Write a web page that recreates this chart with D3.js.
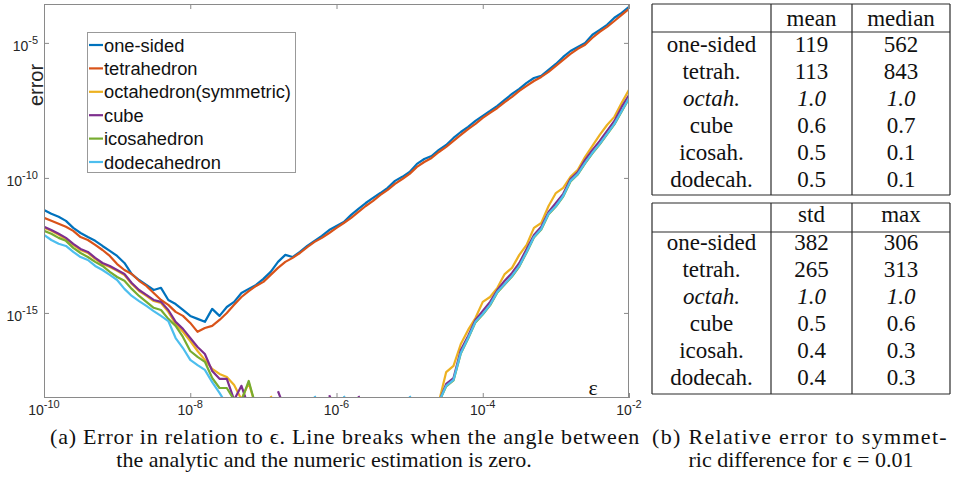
<!DOCTYPE html>
<html>
<head>
<meta charset="utf-8">
<script src="https://cdn.jsdelivr.net/npm/d3@7"></script>
<style>
  body { margin: 0; background: #fff; }
</style>
</head>
<body>
<svg id="chart" width="953" height="484"></svg>
<script>
// log10 of epsilon at each sample
const epsExp = [
  -10.0, -9.9, -9.8, -9.7, -9.6, -9.5, -9.4, -9.3, -9.2, -9.1,
  -9.0, -8.9, -8.8, -8.7, -8.6, -8.5, -8.4, -8.3, -8.2, -8.1,
  -8.0, -7.9, -7.8, -7.7, -7.6, -7.5, -7.4, -7.3, -7.2, -7.1,
  -7.0, -6.9, -6.8, -6.7, -6.6, -6.5, -6.4, -6.3, -6.2, -6.1,
  -6.0, -5.9, -5.8, -5.7, -5.6, -5.5, -5.4, -5.3, -5.2, -5.1,
  -5.0, -4.9, -4.8, -4.7, -4.6, -4.5, -4.4, -4.3, -4.2, -4.1,
  -4.0, -3.9, -3.8, -3.7, -3.6, -3.5, -3.4, -3.3, -3.2, -3.1,
  -3.0, -2.9, -2.8, -2.7, -2.6, -2.5, -2.4, -2.3, -2.2, -2.1,
  -2.0
];

// log10 of the error, null = line break (angle is zero)
const oneSided = [
  -11.19, -11.33, -11.44, -11.59, -11.85, -12.04, -12.19, -12.33, -12.52, -12.70,
  -12.89, -13.15, -13.56, -13.78, -13.96, -14.15, -14.07, -14.52, -14.67, -14.89,
  -15.11, -15.22, -15.33, -14.85, -15.11, -14.78, -14.59, -14.26, -14.11, -13.96,
  -13.74, -13.48, -13.11, -12.85, -12.93, -12.74, -12.52, -12.33, -12.15, -11.93,
  -11.78, -11.63, -11.37, -11.15, -10.93, -10.74, -10.56, -10.37, -10.11, -9.96,
  -9.78, -9.48, -9.30, -9.19, -8.96, -8.78, -8.52, -8.30, -8.11, -7.89,
  -7.70, -7.52, -7.33, -7.11, -6.89, -6.70, -6.48, -6.30, -6.22, -6.00,
  -5.78, -5.52, -5.30, -5.15, -5.00, -4.70, -4.52, -4.33, -4.07, -3.89,
  -3.67
];
const tetrahedron = [
  -11.48, -11.59, -11.70, -11.81, -11.96, -12.19, -12.30, -12.48, -12.67, -12.89,
  -13.19, -13.41, -13.56, -13.81, -14.00, -14.26, -14.52, -14.70, -14.96, -15.11,
  -15.37, -15.70, -15.56, -15.48, -15.26, -15.00, -14.70, -14.41, -14.19, -14.00,
  -13.85, -13.59, -13.33, -13.11, -12.96, -12.78, -12.56, -12.37, -12.22, -12.04,
  -11.85, -11.67, -11.48, -11.26, -11.04, -10.85, -10.63, -10.44, -10.22, -10.04,
  -9.85, -9.59, -9.41, -9.26, -9.04, -8.85, -8.63, -8.41, -8.19, -8.00,
  -7.78, -7.59, -7.41, -7.19, -7.00, -6.78, -6.59, -6.41, -6.26, -6.07,
  -5.85, -5.63, -5.41, -5.22, -5.07, -4.81, -4.59, -4.41, -4.19, -3.96,
  -3.74
];
const octahedron = [
  -11.85, -11.96, -12.11, -12.26, -12.48, -12.67, -12.78, -13.00, -13.19, -13.30,
  -13.44, -13.60, -13.93, -14.19, -14.37, -14.56, -14.63, -14.96, -15.41, -15.70,
  -16.04, -16.41, -16.74, -17.07, -17.26, -17.37, -17.67, -18.20, -17.59, -18.50,
  null, -18.08, -18.60, null, null, null, null, null, null, null,
  null, null, null, null, null, null, null, null, null, null,
  null, null, null, null, -18.30, -17.19, -16.96, -16.15, -15.63, -15.19,
  -14.59, -14.41, -14.07, -13.56, -13.33, -12.85, -12.48, -11.85, -11.67, -11.04,
  -10.56, -10.37, -9.96, -9.70, -9.22, -8.81, -8.41, -8.04, -7.74, -7.22,
  -6.74
];
const cube = [
  -11.81, -11.93, -12.07, -12.22, -12.44, -12.63, -12.74, -12.96, -13.15, -13.26,
  -13.41, -13.56, -13.89, -14.15, -14.33, -14.52, -14.59, -14.89, -15.33, -15.59,
  -15.93, -16.26, -16.52, -17.15, -17.44, -17.44, -18.22, -17.70, -18.50, null,
  null, null, -17.90, -18.60, null, null, null, null, null, -18.05,
  -18.60, null, null, -18.08, -18.60, null, null, null, null, null,
  null, null, null, null, -18.30, -17.63, -17.41, -16.37, -15.85, -15.26,
  -14.93, -14.59, -14.15, -13.81, -13.52, -13.15, -12.63, -12.11, -11.81, -11.26,
  -10.93, -10.59, -10.04, -9.78, -9.33, -8.96, -8.63, -8.26, -7.89, -7.37,
  -6.93
];
const icosahedron = [
  -11.96, -12.07, -12.22, -12.33, -12.59, -12.78, -12.93, -13.11, -13.26, -13.48,
  -13.67, -13.81, -14.11, -14.37, -14.59, -14.81, -14.89, -15.22, -15.48, -15.89,
  -16.41, -16.63, -16.81, -17.41, -17.78, -17.78, -18.22, -18.25, -17.52, -18.50,
  null, null, null, null, null, null, null, null, null, null,
  null, null, null, null, null, null, null, null, null, null,
  null, null, null, null, -18.30, -17.72, -17.50, -16.50, -15.95, -15.35,
  -15.06, -14.72, -14.24, -13.95, -13.65, -13.28, -12.76, -12.21, -11.91, -11.35,
  -11.06, -10.69, -10.13, -9.87, -9.46, -9.09, -8.76, -8.39, -8.02, -7.54,
  -7.06
];
const dodecahedron = [
  -12.11, -12.30, -12.44, -12.52, -12.74, -12.93, -13.04, -13.26, -13.41, -13.59,
  -13.78, -14.11, -14.37, -14.56, -14.74, -14.93, -15.11, -15.30, -15.93, -16.30,
  -16.74, -16.93, -17.11, -17.56, -17.96, -18.40, null, null, null, null,
  null, null, null, null, null, null, null, -18.08, -18.60, null,
  null, -18.08, -18.60, null, null, null, null, null, null, null,
  -18.08, -18.60, null, null, -18.30, -17.70, -17.48, -16.48, -15.93, -15.33,
  -15.04, -14.70, -14.22, -13.93, -13.63, -13.26, -12.74, -12.19, -11.89, -11.33,
  -11.04, -10.67, -10.11, -9.85, -9.44, -9.07, -8.74, -8.37, -8.00, -7.52,
  -7.04
];

const seriesNames = ["one-sided", "tetrahedron", "octahedron(symmetric)", "cube", "icosahedron", "dodecahedron"];
const seriesValues = [oneSided, tetrahedron, octahedron, cube, icosahedron, dodecahedron];
const seriesColors = ["#0072BD", "#D95319", "#EDB120", "#7E2F8E", "#77AC30", "#4DBEEE"];

const xTickExp = [-10, -8, -6, -4, -2];
const yTickExp = [-15, -10, -5];

// table (b)
const rowLabels = ["one-sided", "tetrah.", "octah.", "cube", "icosah.", "dodecah."];
const meanVals = [119, 113, 1.0, 0.6, 0.5, 0.5];
const medianVals = [562, 843, 1.0, 0.7, 0.1, 0.1];
const stdVals = [382, 265, 1.0, 0.5, 0.4, 0.4];
const maxVals = [306, 313, 1.0, 0.6, 0.3, 0.3];

const svg = d3.select("#chart");
const plot = { left: 44, right: 629, top: 4, bottom: 398 };
const axisColor = "#8a8a8a";
const labelColor = "#262626";
const sans = "Liberation Sans, Arial, sans-serif";
const serif = "Liberation Serif, Times New Roman, serif";

const x = d3.scaleLog()
    .domain([1e-10, 1e-2])
    .range([plot.left, plot.right]);
const y = d3.scaleLog()
    .domain([Math.pow(10, -18.15), Math.pow(10, -3.56)])
    .range([plot.bottom, plot.top]);

// clip lines to the axes box like matlab does
svg.append("clipPath").attr("id", "clip")
  .append("rect")
    .attr("x", plot.left).attr("y", plot.top)
    .attr("width", plot.right - plot.left)
    .attr("height", plot.bottom - plot.top);

const line = d3.line()
    .defined(d => d[1] !== null)
    .x(d => x(Math.pow(10, d[0])))
    .y(d => y(Math.pow(10, d[1])));

svg.append("g")
    .attr("clip-path", "url(#clip)")
  .selectAll("path")
  .data(seriesValues)
  .join("path")
    .attr("d", vals => line(vals.map((v, i) => [epsExp[i], v])))
    .attr("fill", "none")
    .attr("stroke", (d, i) => seriesColors[i])
    .attr("stroke-width", 2.2)
    .attr("stroke-linejoin", "round");

// ticks on all four sides, pointing inwards
const xTickVals = xTickExp.map(e => Math.pow(10, e));
const yTickVals = yTickExp.map(e => Math.pow(10, e));

const axes = [
  [d3.axisBottom(x).tickValues(xTickVals), `translate(0,${plot.bottom})`],
  [d3.axisTop(x).tickValues(xTickVals), `translate(0,${plot.top})`],
  [d3.axisLeft(y).tickValues(yTickVals), `translate(${plot.left},0)`],
  [d3.axisRight(y).tickValues(yTickVals), `translate(${plot.right},0)`]
];
axes.forEach(([axis, tr]) => {
  const g = svg.append("g")
      .attr("transform", tr)
      .call(axis.tickSize(-5).tickFormat(""));
  g.select(".domain").remove();
  g.selectAll("line").attr("stroke", axisColor);
});

svg.append("rect")
    .attr("x", plot.left + 0.5).attr("y", plot.top + 0.5)
    .attr("width", plot.right - plot.left - 1)
    .attr("height", plot.bottom - plot.top - 1)
    .attr("fill", "none")
    .attr("stroke", axisColor);

// 10^n labels
function powerLabel(g, e) {
  g.append("tspan").text("10");
  g.append("tspan")
      .attr("dy", -7)
      .style("font-size", "11px")
      .text(e);
}

svg.append("g")
  .selectAll("text")
  .data(xTickExp)
  .join("text")
    .attr("x", d => x(Math.pow(10, d)))
    .attr("y", 415)
    .attr("text-anchor", "middle")
    .style("font-family", sans)
    .style("font-size", "14px")
    .attr("fill", labelColor)
    .each(function(d) { powerLabel(d3.select(this), d); });

svg.append("g")
  .selectAll("text")
  .data(yTickExp)
  .join("text")
    .attr("x", 38)
    .attr("y", d => y(Math.pow(10, d)) + 8)
    .attr("text-anchor", "end")
    .style("font-family", sans)
    .style("font-size", "14px")
    .attr("fill", labelColor)
    .each(function(d) { powerLabel(d3.select(this), d); });

// axis titles
svg.append("text")
    .attr("transform", "translate(43,85) rotate(-90)")
    .attr("text-anchor", "middle")
    .style("font-family", sans)
    .style("font-size", "20px")
    .attr("fill", labelColor)
    .text("error");

svg.append("text")
    .attr("x", 593).attr("y", 395)
    .attr("text-anchor", "middle")
    .style("font-family", serif)
    .style("font-size", "22px")
    .attr("fill", "#111")
    .text("ε");

// legend
const legend = svg.append("g");
legend.append("rect")
    .attr("x", 87.5).attr("y", 32.5)
    .attr("width", 208).attr("height", 140)
    .attr("fill", "#fff")
    .attr("stroke", "#999");

const legendRow = d3.scaleLinear().domain([0, 5]).range([45, 162]);
const items = legend.selectAll("g.item")
  .data(seriesNames)
  .join("g")
    .attr("class", "item")
    .attr("transform", (d, i) => `translate(0,${legendRow(i)})`);
items.append("line")
    .attr("x1", 89).attr("x2", 103)
    .attr("stroke", (d, i) => seriesColors[i])
    .attr("stroke-width", 2.2);
items.append("text")
    .attr("x", 104).attr("y", 6.5)
    .style("font-family", sans)
    .style("font-size", "18.3px")
    .attr("fill", "#111")
    .text(d => d);

// tables
const fmt = v => v >= 10 ? d3.format("d")(v) : d3.format(".1f")(v);
const tableCols = { edges: [652, 771, 852, 950], centers: [711.5, 811.5, 901] };

function drawTable(top, headRule, bottom, headers, colA, colB, headBase, firstBase) {
  const g = svg.append("g")
      .attr("stroke", "#2b2b2b")
      .attr("stroke-width", 1.2);
  [top, headRule, bottom].forEach(yy => {
    g.append("line")
        .attr("x1", tableCols.edges[0]).attr("x2", tableCols.edges[3])
        .attr("y1", yy).attr("y2", yy);
  });
  tableCols.edges.forEach(xx => {
    g.append("line")
        .attr("x1", xx).attr("x2", xx)
        .attr("y1", top).attr("y2", bottom);
  });

  const t = svg.append("g")
      .style("font-family", serif)
      .style("font-size", "23px")
      .attr("fill", "#111")
      .attr("text-anchor", "middle");
  headers.forEach((h, j) => {
    t.append("text")
        .attr("x", tableCols.centers[j + 1])
        .attr("y", headBase)
        .text(h);
  });
  rowLabels.forEach((r, i) => {
    const row = t.append("g")
        .style("font-style", r === "octah." ? "italic" : "normal");
    const yy = firstBase + 27 * i;
    row.append("text").attr("x", tableCols.centers[0]).attr("y", yy).text(r);
    row.append("text").attr("x", tableCols.centers[1]).attr("y", yy).text(fmt(colA[i]));
    row.append("text").attr("x", tableCols.centers[2]).attr("y", yy).text(fmt(colB[i]));
  });
}

drawTable(4, 32, 195, ["mean", "median"], meanVals, medianVals, 26, 52);
drawTable(203, 232, 394, ["std", "max"], stdVals, maxVals, 222, 250);

// captions; first lines stretched to the column width like latex does
function captionLine(xx, yy, str, anchor) {
  return svg.append("text")
      .attr("x", xx).attr("y", yy)
      .attr("text-anchor", anchor)
      .style("font-family", serif)
      .style("font-size", "22px")
      .attr("fill", "#111")
      .text(str);
}
function justify(sel, width) {
  const natural = sel.node().getComputedTextLength();
  const chars = sel.text().length;
  sel.style("letter-spacing", ((width - natural) / chars) + "px");
}

justify(captionLine(50, 444, "(a) Error in relation to ϵ. Line breaks when the angle between", "start"), 590);
captionLine(324, 467, "the analytic and the numeric estimation is zero.", "middle");
justify(captionLine(652, 444, "(b) Relative error to symmet-", "start"), 296);
captionLine(801, 467, "ric difference for ϵ = 0.01", "middle");
</script>
</body>
</html>
